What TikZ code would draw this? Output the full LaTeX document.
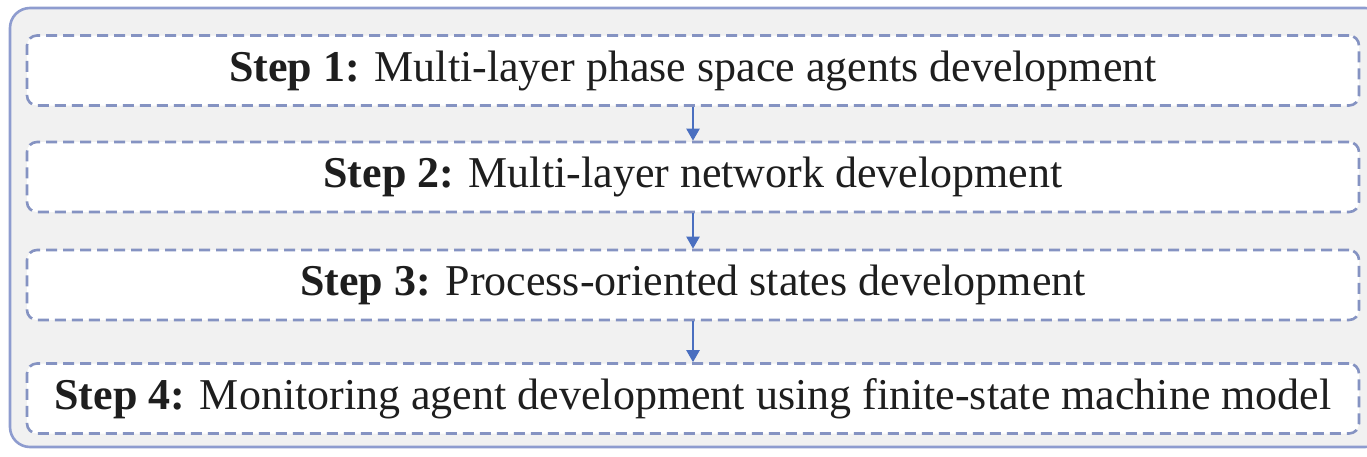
\documentclass[tikz,border=0pt]{standalone}
\usepackage{fontspec}
\setmainfont{Liberation Serif}
\usetikzlibrary{arrows.meta, calc}

\definecolor{frameblue}{HTML}{8E9CCF}
\definecolor{dashblue}{HTML}{8593C2}
\definecolor{arrowblue}{HTML}{4A6FC0}
\definecolor{panelgray}{HTML}{F1F1F1}
\definecolor{inkgray}{HTML}{1E1E1E}

\tikzset{
	stepbox/.style = {draw = dashblue, fill = white, line width = 1.3pt,
		dash pattern = on 5.5pt off 3pt, rounded corners = 5pt,
		minimum width = 666pt, minimum height = 35pt, inner sep = 0pt,
		text = inkgray, font = \fontsize{22}{26}\selectfont},
	flow/.style = {draw = arrowblue, line width = 1.1pt,
		-{Triangle[length = 6pt, width = 6.5pt]}}
}

\begin{document}
\begin{tikzpicture}[x = 0.5pt, y = -0.5pt]
\useasboundingbox (0, 0) rectangle (1367, 456);

\begin{scope}
	\clip (0, 0) rectangle (1367, 456);
	\fill[color = white] (0, 0) rectangle (1367, 456);
	\draw[draw = frameblue, fill = panelgray, line width = 1.3pt, rounded corners = 10pt]
		(10, 8) rectangle (1385, 447);
\end{scope}

\node[stepbox] (step1) at (693, 70.5) {\textbf{Step 1:} Multi-layer phase space agents development};
\node[stepbox] (step2) at (693, 177) {\textbf{Step 2:} Multi-layer network development};
\node[stepbox] (step3) at (693, 285) {\textbf{Step 3:} Process-oriented states development};
\node[stepbox] (step4) at (693, 398.5) {\textbf{Step 4:} Monitoring agent development using finite-state machine model};

\draw[flow] (step1) -- (step2);
\draw[flow] (step2) -- (step3);
\draw[flow] (step3) -- (step4);

\end{tikzpicture}
\end{document}
